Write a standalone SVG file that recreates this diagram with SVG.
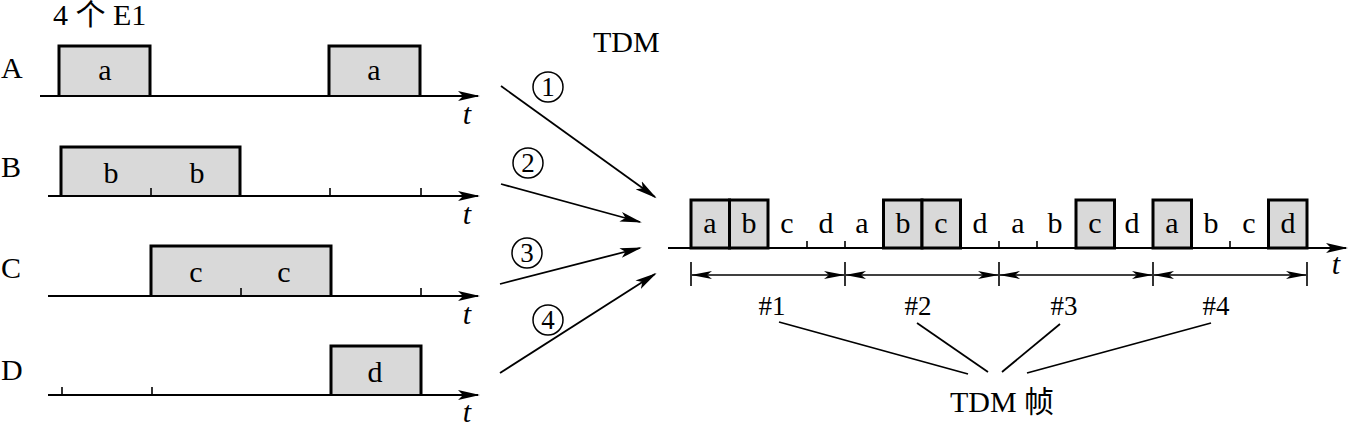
<svg xmlns="http://www.w3.org/2000/svg" width="1352" height="426" viewBox="0 0 1352 426" font-family="'Liberation Serif','Times New Roman','DejaVu Serif','Noto Sans CJK SC',serif">
<defs>
<marker id="ah" markerUnits="userSpaceOnUse" markerWidth="24" markerHeight="12" refX="20" refY="5" orient="auto-start-reverse" viewBox="0 0 24 10">
<path d="M0,0 L22,5 L0,10 L5,5 z" fill="#000"/>
</marker>
<marker id="ah2" markerUnits="userSpaceOnUse" markerWidth="22" markerHeight="10" refX="20" refY="4" orient="auto-start-reverse" viewBox="0 0 22 8">
<path d="M0,0 L21,4 L0,8 L5,4 z" fill="#000"/>
</marker>
</defs>
<style>
text{font-family:'Liberation Serif','Times New Roman','DejaVu Serif','Noto Sans CJK SC',serif;fill:#000}
.lb{font-size:30px;text-anchor:middle}
.big{font-size:30px}
.num{font-size:27px;text-anchor:middle}
.t{font-size:30px;font-style:italic;text-anchor:middle}
.ax{stroke:#000;stroke-width:2.2;fill:none}
.pl{stroke:#000;stroke-width:3;fill:#d9d9d9}
.tk{stroke:#000;stroke-width:1.6}
.cn{stroke:#000;stroke-width:1.8;fill:none}
.ci{stroke:#000;stroke-width:1.5;fill:none}
</style>
<rect width="1352" height="426" fill="#fff"/>
<text class="big" x="53" y="25">4 个 E1</text>
<g id="A">
<text class="big" x="1" y="78">A</text>
<path class="pl" d="M59,96 V46 H150 V96"/>
<path class="pl" d="M329,96 V46 H420 V96"/>
<line class="ax" x1="40" y1="96" x2="478" y2="96" marker-end="url(#ah)"/>
<text class="lb" x="105" y="80">a</text>
<text class="lb" x="374" y="80">a</text>
<text class="t" x="467" y="124">t</text>
</g>
<g id="B">
<text class="big" x="1" y="177">B</text>
<path class="pl" d="M61,196 V147 H240 V196"/>
<line class="ax" x1="48" y1="196" x2="478" y2="196" marker-end="url(#ah)"/>
<line class="tk" x1="151" y1="196" x2="151" y2="188"/>
<line class="tk" x1="330" y1="196" x2="330" y2="188"/>
<line class="tk" x1="421" y1="196" x2="421" y2="188"/>
<text class="lb" x="111" y="183">b</text>
<text class="lb" x="197" y="183">b</text>
<text class="t" x="467" y="224">t</text>
</g>
<g id="C">
<text class="big" x="1" y="278">C</text>
<path class="pl" d="M151,296 V246 H331 V296"/>
<line class="ax" x1="48" y1="296" x2="478" y2="296" marker-end="url(#ah)"/>
<line class="tk" x1="241" y1="296" x2="241" y2="288"/>
<line class="tk" x1="421" y1="296" x2="421" y2="288"/>
<text class="lb" x="196" y="282">c</text>
<text class="lb" x="284" y="282">c</text>
<text class="t" x="467" y="324">t</text>
</g>
<g id="D">
<text class="big" x="1" y="380">D</text>
<path class="pl" d="M331,395 V346 H421 V395"/>
<line class="ax" x1="48" y1="395" x2="478" y2="395" marker-end="url(#ah)"/>
<line class="tk" x1="62" y1="395" x2="62" y2="387"/>
<line class="tk" x1="152" y1="395" x2="152" y2="387"/>
<text class="lb" x="375" y="382">d</text>
<text class="t" x="467" y="422">t</text>
</g>
<g id="connectors">
<line class="cn" x1="501" y1="86" x2="655" y2="197" marker-end="url(#ah)"/>
<line class="cn" x1="501" y1="184" x2="640" y2="222" marker-end="url(#ah)"/>
<line class="cn" x1="500" y1="284" x2="640" y2="248" marker-end="url(#ah)"/>
<line class="cn" x1="500" y1="373" x2="655" y2="274" marker-end="url(#ah)"/>
<line class="cn" x1="779" y1="322" x2="968" y2="374"/>
<line class="cn" x1="917" y1="323" x2="988" y2="372"/>
<line class="cn" x1="1060" y1="324" x2="1002" y2="372"/>
<line class="cn" x1="1211" y1="323" x2="1027" y2="373"/>
</g>
<g id="labels">
<text class="big" x="593" y="52">TDM</text>
<circle class="ci" cx="548" cy="87" r="15"/><text class="num" x="548" y="96">1</text>
<circle class="ci" cx="528" cy="163" r="15"/><text class="num" x="528" y="172">2</text>
<circle class="ci" cx="527" cy="253" r="15"/><text class="num" x="527" y="262">3</text>
<circle class="ci" cx="548" cy="320" r="15"/><text class="num" x="548" y="329">4</text>
</g>
<g id="frame">
<rect class="pl" x="691" y="200" width="38.5" height="48"/>
<rect class="pl" x="729.5" y="200" width="38.5" height="48"/>
<rect class="pl" x="883.5" y="200" width="38.5" height="48"/>
<rect class="pl" x="922" y="200" width="38.5" height="48"/>
<rect class="pl" x="1076" y="200" width="38.5" height="48"/>
<rect class="pl" x="1153" y="200" width="38.5" height="48"/>
<rect class="pl" x="1268.5" y="200" width="38.5" height="48"/>
<line class="ax" x1="668" y1="248" x2="1346" y2="248" marker-end="url(#ah)"/>
<line class="tk" x1="807" y1="248" x2="807" y2="241"/>
<line class="tk" x1="845" y1="248" x2="845" y2="241"/>
<line class="tk" x1="999" y1="248" x2="999" y2="241"/>
<line class="tk" x1="1037" y1="248" x2="1037" y2="241"/>
<line class="tk" x1="1230" y1="248" x2="1230" y2="241"/>
<text class="lb" x="710" y="233">a</text>
<text class="lb" x="749" y="233">b</text>
<text class="lb" x="787" y="233">c</text>
<text class="lb" x="826" y="233">d</text>
<text class="lb" x="862" y="233">a</text>
<text class="lb" x="903" y="233">b</text>
<text class="lb" x="941" y="233">c</text>
<text class="lb" x="980" y="233">d</text>
<text class="lb" x="1018" y="233">a</text>
<text class="lb" x="1055" y="233">b</text>
<text class="lb" x="1095" y="233">c</text>
<text class="lb" x="1132" y="233">d</text>
<text class="lb" x="1172" y="233">a</text>
<text class="lb" x="1211" y="233">b</text>
<text class="lb" x="1249" y="233">c</text>
<text class="lb" x="1288" y="233">d</text>
<text class="t" x="1336" y="274">t</text>
<line class="tk" x1="691" y1="262" x2="691" y2="286"/>
<line class="tk" x1="845" y1="262" x2="845" y2="286"/>
<line class="tk" x1="999" y1="262" x2="999" y2="286"/>
<line class="tk" x1="1153" y1="262" x2="1153" y2="286"/>
<line class="tk" x1="1307" y1="262" x2="1307" y2="286"/>
<line class="tk" x1="692" y1="275" x2="844" y2="275" marker-start="url(#ah2)" marker-end="url(#ah2)"/>
<line class="tk" x1="846" y1="275" x2="998" y2="275" marker-start="url(#ah2)" marker-end="url(#ah2)"/>
<line class="tk" x1="1000" y1="275" x2="1152" y2="275" marker-start="url(#ah2)" marker-end="url(#ah2)"/>
<line class="tk" x1="1154" y1="275" x2="1306" y2="275" marker-start="url(#ah2)" marker-end="url(#ah2)"/>
<text class="num" x="772" y="315">#1</text>
<text class="num" x="918" y="315">#2</text>
<text class="num" x="1064" y="315">#3</text>
<text class="num" x="1216" y="315">#4</text>
<text class="lb" x="1002" y="412">TDM 帧</text>
</g>
</svg>
